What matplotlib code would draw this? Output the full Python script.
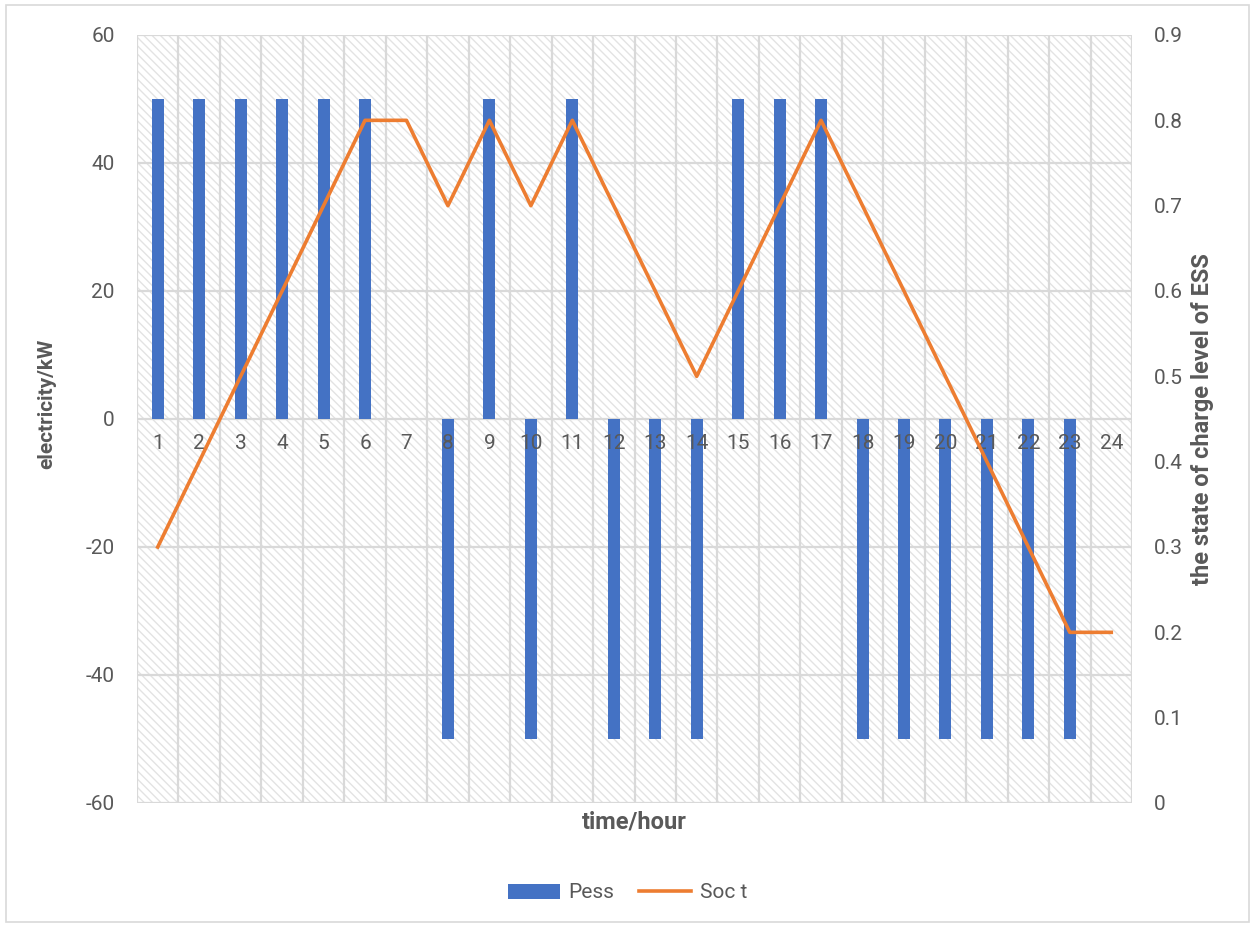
import numpy as np
import matplotlib
matplotlib.use('Agg')
import matplotlib.pyplot as plt
from matplotlib.patches import Rectangle

plt.rcParams['font.family'] = ['Roboto', 'DejaVu Sans']
plt.rcParams['axes.unicode_minus'] = False
plt.rcParams['hatch.linewidth'] = 1.0
plt.rcParams['hatch.color'] = '#e3e3e3'

hours = list(range(1, 25))
pess = [50, 50, 50, 50, 50, 50, 0, -50, 50, -50, 50, -50,
        -50, -50, 50, 50, 50, -50, -50, -50, -50, -50, -50, 0]
soc = [0.3, 0.4, 0.5, 0.6, 0.7, 0.8, 0.8, 0.7, 0.8, 0.7, 0.8, 0.7,
       0.6, 0.5, 0.6, 0.7, 0.8, 0.7, 0.6, 0.5, 0.4, 0.3, 0.2, 0.2]

txt = '#595959'
grid_c = '#d9d9d9'
fs = 15

fig = plt.figure(figsize=[12.55, 9.27], dpi=100)
# chart border
fig.patches.append(Rectangle((6/1255, 5/927), 1243/1255, 917/927, transform=fig.transFigure,
                             fill=False, edgecolor=grid_c, linewidth=1.2))

ax = fig.add_axes([137/1255, 1-803/927, 995/1255, 768/927])
ax.set_xlim(0.5, 24.5)
ax.set_ylim(-60, 60)
ax.set_facecolor('white')

# hatched plot area
ax.add_patch(Rectangle((0, 0), 1, 1, transform=ax.transAxes, facecolor='white',
                       hatch='\\\\\\\\', edgecolor='#e3e3e3', linewidth=0, zorder=0))

for y in range(-60, 61, 20):
    ax.axhline(y, color=grid_c, linewidth=1.6, zorder=1)
for x in np.arange(0.5, 25, 1):
    ax.axvline(x, color=grid_c, linewidth=1.6, zorder=1)

ax.bar(hours, pess, width=0.29, color='#4472C4', zorder=2, label='Pess')

for s in ax.spines.values():
    s.set_visible(False)
ax.set_xticks(hours)
ax.set_xticklabels([])
ax.tick_params(axis='x', length=0)
# category labels sit just below the zero line
for h in hours:
    ax.text(h, -2.4, str(h), ha='center', va='top', fontsize=fs, color=txt, zorder=3)

ax.set_yticks(range(-60, 61, 20))
ax.tick_params(axis='y', length=0, pad=16, labelsize=fs, labelcolor=txt)
ax.set_xlabel('time/hour', fontsize=17, fontweight='bold', color=txt, labelpad=2)
ax.set_ylabel('electricity/kW', fontsize=15, fontweight='bold', color=txt)
ax.yaxis.set_label_coords(-0.081, 0.52)

ax2 = ax.twinx()
ax2.set_ylim(0, 0.9)
ax2.plot(hours, soc, color='#ED7D31', linewidth=2.6, zorder=4, label='Soc t')
ax2.set_yticks(np.round(np.arange(0, 0.91, 0.1), 1))
ax2.set_yticklabels(['0'] + ['%.1f' % v for v in np.arange(0.1, 0.91, 0.1)])
ax2.tick_params(axis='y', length=0, pad=16, labelsize=fs, labelcolor=txt)
ax2.set_ylabel('the state of charge level of ESS', fontsize=17, fontweight='bold', color=txt)
ax2.yaxis.set_label_coords(1.059, 0.5)
for s in ax2.spines.values():
    s.set_visible(False)

h1, l1 = ax.get_legend_handles_labels()
h2, l2 = ax2.get_legend_handles_labels()
leg = fig.legend(h1 + h2, l1 + l2, loc='center', bbox_to_anchor=(0.5, 1-893/927), ncol=2,
                 frameon=False, fontsize=fs, handlelength=2.5, columnspacing=1.2,
                 handletextpad=0.4)
for t in leg.get_texts():
    t.set_color(txt)

fig.savefig('out.png', dpi=100)
